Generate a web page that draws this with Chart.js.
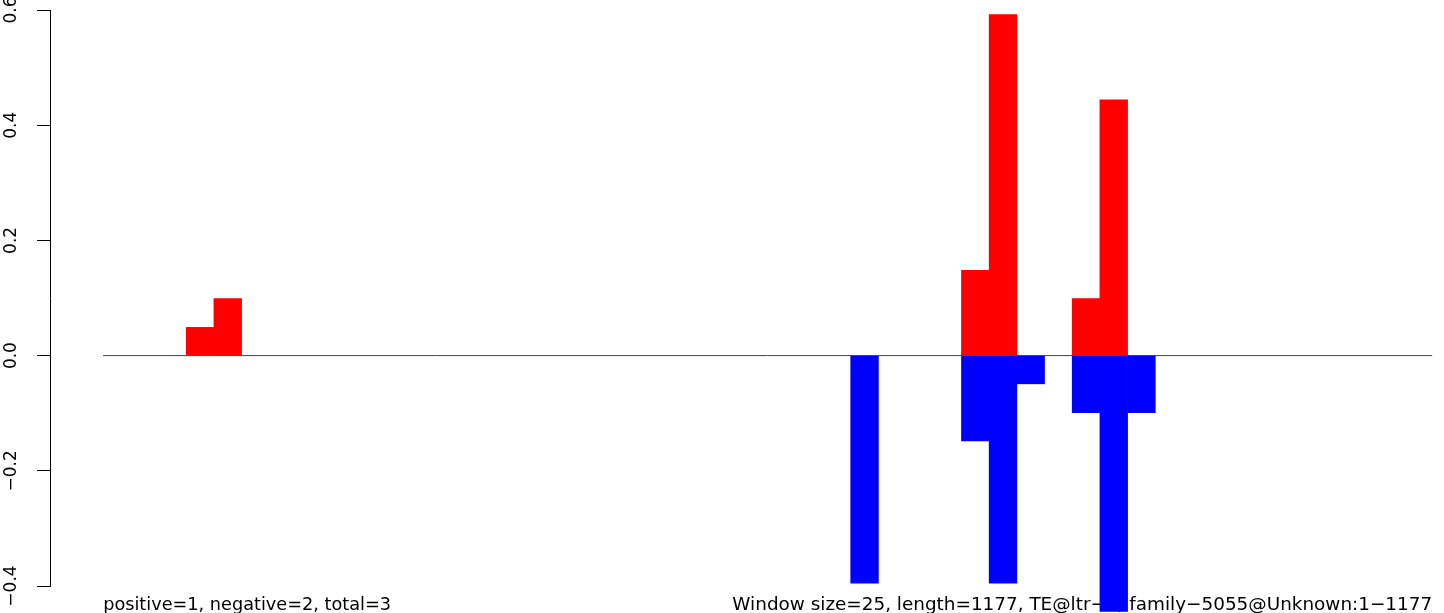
<!DOCTYPE html>
<html>
<head>
<meta charset="utf-8">
<script src="https://cdn.jsdelivr.net/npm/chart.js@4/dist/chart.umd.min.js"></script>
<style>
  html, body { margin: 0; padding: 0; background: #fff; }
  canvas { display: block; }
</style>
</head>
<body>
<canvas id="winplot" width="1444" height="613"></canvas>
<script>
// windows of 25 bp over a 1177 bp element -> 48 bins
var binSize = 25;
var nBins = 48;

var redBins = [3, 4, 31, 32, 35, 36];
var redValues = [0.049, 0.099, 0.148, 0.592, 0.099, 0.444];

var blueBins = [27, 31, 32, 33, 35, 36, 37];
var blueValues = [-0.395, -0.148, -0.395, -0.049, -0.099, -0.444, -0.099];

var yTicks = [-0.4, -0.2, 0.0, 0.2, 0.4, 0.6];
var yTickLabels = ['\u22120.4', '\u22120.2', '0.0', '0.2', '0.4', '0.6'];

var leftNote = 'positive=1, negative=2, total=3';
var rightNote = 'Window size=25, length=1177, TE@ltr\u22121, family\u22125055@Unknown:1\u22121177';

function toPoints(bins, values) {
    var pts = [];
    for (var i = 0; i < bins.length; i++) {
        pts.push({x: bins[i] * binSize + binSize / 2, y: values[i]});
    }
    return pts;
}

Chart.defaults.font.family = '"DejaVu Sans", sans-serif';
Chart.defaults.color = '#000';

var notesPlugin = {
    id: 'notes',
    beforeDatasetsDraw: function(chart) {
        var ctx = chart.ctx;
        var xs = chart.scales.x;
        var y = 610;
        ctx.save();
        ctx.fillStyle = '#000';
        ctx.textBaseline = 'alphabetic';
        ctx.font = '17.7px "DejaVu Sans", sans-serif';
        ctx.textAlign = 'left';
        ctx.fillText(leftNote, xs.getPixelForValue(0), y);
        ctx.font = '18.4px "DejaVu Sans", sans-serif';
        ctx.textAlign = 'right';
        ctx.fillText(rightNote, xs.getPixelForValue(nBins * binSize), y);
        ctx.restore();
    }
};

new Chart(document.getElementById('winplot'), {
    type: 'bar',
    data: {
        datasets: [{
            label: 'positive',
            data: toPoints(redBins, redValues),
            backgroundColor: '#ff0000',
            borderWidth: 0,
            grouped: false,
            barPercentage: 1,
            categoryPercentage: 1,
            clip: false,
            order: 1
        }, {
            label: 'negative',
            data: toPoints(blueBins, blueValues),
            backgroundColor: '#0000ff',
            borderWidth: 0,
            grouped: false,
            barPercentage: 1,
            categoryPercentage: 1,
            clip: false,
            order: 1
        }, {
            type: 'line',
            label: 'zero',
            data: [{x: 0, y: 0}, {x: nBins * binSize, y: 0}],
            borderColor: '#444',
            borderWidth: 1,
            pointRadius: 0,
            order: 2
        }]
    },
    options: {
        responsive: false,
        animation: false,
        devicePixelRatio: 1,
        layout: {padding: {top: 10, bottom: 27, left: 0, right: 0}},
        plugins: {legend: {display: false}, tooltip: {enabled: false}},
        scales: {
            x: {
                type: 'linear',
                display: false,
                offset: false,
                bounds: 'data',
                min: -48,
                max: 1210.7
            },
            y: {
                min: -0.4,
                max: 0.6,
                afterBuildTicks: function(scale) {
                    scale.ticks = yTicks.map(function(v) { return {value: v}; });
                },
                afterFit: function(scale) {
                    scale.width = 50;
                    scale.paddingTop = 0;
                    scale.paddingBottom = 0;
                },
                grid: {drawOnChartArea: false, tickLength: 13, color: '#000', lineWidth: 1},
                border: {display: true, color: '#000', width: 1},
                ticks: {
                    minRotation: 90,
                    maxRotation: 90,
                    crossAlign: 'center',
                    padding: 5,
                    font: {size: 17},
                    callback: function(v) {
                        var i = yTicks.indexOf(Math.round(v * 10) / 10);
                        return i >= 0 ? yTickLabels[i] : '';
                    }
                }
            }
        }
    },
    plugins: [notesPlugin]
});
</script>
</body>
</html>
